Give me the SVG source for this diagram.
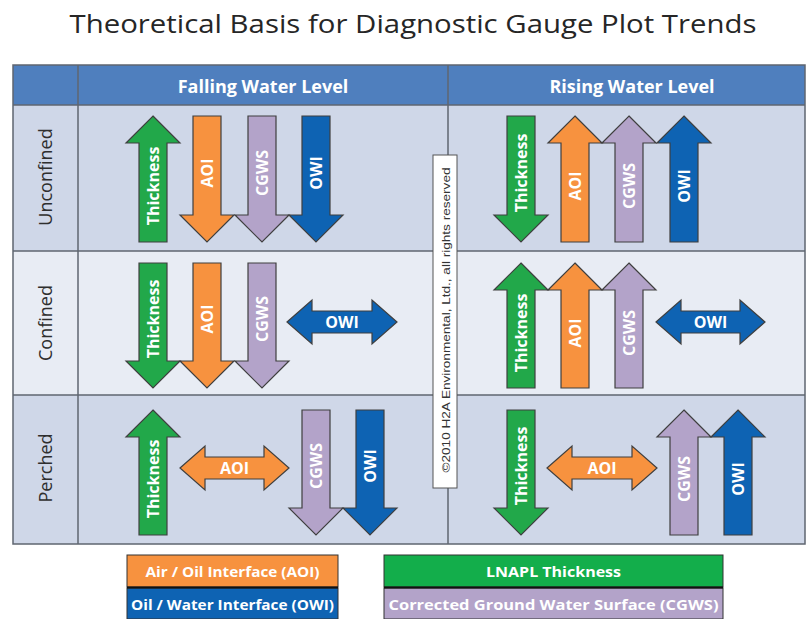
<svg xmlns="http://www.w3.org/2000/svg" width="806" height="619" viewBox="0 0 806 619">
<style>
.g{fill:#22a84a}.o{fill:#f7923f}.p{fill:#b3a3c9}.b{fill:#0e63b3}
.arr{stroke:#3f3f3f;stroke-width:1.2;stroke-linejoin:miter}
.lbl{font-family:"Open Sans","Liberation Sans",sans-serif;font-weight:700;font-size:16px;fill:#fff;text-anchor:middle;dominant-baseline:central}
.hdr{font-family:"Open Sans","Liberation Sans",sans-serif;font-weight:700;font-size:18px;fill:#fff;text-anchor:middle;dominant-baseline:central}
.row{font-family:"Open Sans","Liberation Sans",sans-serif;font-size:18px;fill:#2e2e2e;text-anchor:middle;dominant-baseline:central}
.leg{font-family:"Open Sans","Liberation Sans",sans-serif;font-weight:700;font-size:15px;fill:#fff;text-anchor:middle;dominant-baseline:central}
.grid{stroke:#5f6670;stroke-width:1.5;fill:none}
</style>
<rect width="806" height="619" fill="#fff"/>
<g id="title">
<text x="413" y="33" font-family="'Open Sans','Liberation Sans',sans-serif" font-size="26" fill="#262626" text-anchor="middle" textLength="687" lengthAdjust="spacingAndGlyphs">Theoretical Basis for Diagnostic Gauge Plot Trends</text>
</g>
<g id="table">
<rect x="13" y="65" width="792" height="40" fill="#4f7fbe"/>
<rect x="13" y="105" width="792" height="146" fill="#cfd7e8"/>
<rect x="13" y="251" width="792" height="144" fill="#e8ecf4"/>
<rect x="13" y="395" width="792" height="149" fill="#cfd7e8"/>
<rect class="grid" x="13" y="65" width="792" height="479" stroke-width="2"/>
<line class="grid" x1="13" y1="105" x2="805" y2="105"/>
<line class="grid" x1="13" y1="251" x2="805" y2="251"/>
<line class="grid" x1="13" y1="395" x2="805" y2="395"/>
<line class="grid" x1="78" y1="65" x2="78" y2="544"/>
<line class="grid" x1="448" y1="65" x2="448" y2="544"/>
<text class="hdr" x="263" y="86">Falling Water Level</text>
<text class="hdr" x="632" y="86">Rising Water Level</text>
<text class="row" transform="translate(45,177) rotate(-90)">Unconfined</text>
<text class="row" transform="translate(45,323) rotate(-90)">Confined</text>
<text class="row" transform="translate(45,468) rotate(-90)">Perched</text>
</g>
<g id="unconfined-falling">
<polygon class="g arr" points="153,116 180,143 167,143 167,242 139,242 139,143 126,143"/>
<text class="lbl" transform="translate(153,186) rotate(-90)">Thickness</text>
<polygon class="o arr" points="193,116 221,116 221,215 234,215 207,242 180,215 193,215"/>
<text class="lbl" transform="translate(207,173) rotate(-90)">AOI</text>
<polygon class="p arr" points="248,116 276,116 276,215 289,215 262,242 235,215 248,215"/>
<text class="lbl" transform="translate(262,173) rotate(-90)">CGWS</text>
<polygon class="b arr" points="302,116 330,116 330,215 343,215 316,242 289,215 302,215"/>
<text class="lbl" transform="translate(316,173) rotate(-90)">OWI</text>
</g>
<g id="unconfined-rising">
<polygon class="g arr" points="507,116 535,116 535,215 548,215 521,242 494,215 507,215"/>
<text class="lbl" transform="translate(521,173) rotate(-90)">Thickness</text>
<polygon class="o arr" points="575,116 602,143 589,143 589,242 561,242 561,143 548,143"/>
<text class="lbl" transform="translate(575,186) rotate(-90)">AOI</text>
<polygon class="p arr" points="629,116 656,143 643,143 643,242 615,242 615,143 602,143"/>
<text class="lbl" transform="translate(629,186) rotate(-90)">CGWS</text>
<polygon class="b arr" points="684,116 711,143 698,143 698,242 670,242 670,143 657,143"/>
<text class="lbl" transform="translate(684,186) rotate(-90)">OWI</text>
</g>
<g id="confined-falling">
<polygon class="g arr" points="139,263 167,263 167,361 180,361 153,388 126,361 139,361"/>
<text class="lbl" transform="translate(153,319) rotate(-90)">Thickness</text>
<polygon class="o arr" points="193,263 221,263 221,361 234,361 207,388 180,361 193,361"/>
<text class="lbl" transform="translate(207,319) rotate(-90)">AOI</text>
<polygon class="p arr" points="248,263 276,263 276,361 289,361 262,388 235,361 248,361"/>
<text class="lbl" transform="translate(262,319) rotate(-90)">CGWS</text>
<polygon class="b arr" points="287,322 312,300 312,311 372,311 372,300 397,322 372,344 372,333 312,333 312,344"/>
<text class="lbl" x="342" y="322">OWI</text>
</g>
<g id="confined-rising">
<polygon class="g arr" points="521,263 548,290 535,290 535,388 507,388 507,290 494,290"/>
<text class="lbl" transform="translate(521,333) rotate(-90)">Thickness</text>
<polygon class="o arr" points="575,263 602,290 589,290 589,388 561,388 561,290 548,290"/>
<text class="lbl" transform="translate(575,333) rotate(-90)">AOI</text>
<polygon class="p arr" points="629,263 656,290 643,290 643,388 615,388 615,290 602,290"/>
<text class="lbl" transform="translate(629,333) rotate(-90)">CGWS</text>
<polygon class="b arr" points="656,322 681,300 681,311 740,311 740,300 765,322 740,344 740,333 681,333 681,344"/>
<text class="lbl" x="710.5" y="322">OWI</text>
</g>
<g id="perched-falling">
<polygon class="g arr" points="153,410 180,437 167,437 167,535 139,535 139,437 126,437"/>
<text class="lbl" transform="translate(153,479) rotate(-90)">Thickness</text>
<polygon class="o arr" points="180,468 205,446 205,457 264,457 264,446 289,468 264,490 264,479 205,479 205,490"/>
<text class="lbl" x="234.5" y="468">AOI</text>
<polygon class="p arr" points="302,410 330,410 330,508 343,508 316,535 289,508 302,508"/>
<text class="lbl" transform="translate(316,466) rotate(-90)">CGWS</text>
<polygon class="b arr" points="356,410 384,410 384,508 397,508 370,535 343,508 356,508"/>
<text class="lbl" transform="translate(370,466) rotate(-90)">OWI</text>
</g>
<g id="perched-rising">
<polygon class="g arr" points="507,410 535,410 535,508 548,508 521,535 494,508 507,508"/>
<text class="lbl" transform="translate(521,466) rotate(-90)">Thickness</text>
<polygon class="o arr" points="547,468 572,446 572,457 632,457 632,446 657,468 632,490 632,479 572,479 572,490"/>
<text class="lbl" x="602" y="468">AOI</text>
<polygon class="p arr" points="684,410 711,437 698,437 698,535 670,535 670,437 657,437"/>
<text class="lbl" transform="translate(684,479) rotate(-90)">CGWS</text>
<polygon class="b arr" points="738,410 765,437 752,437 752,535 724,535 724,437 711,437"/>
<text class="lbl" transform="translate(738,479) rotate(-90)">OWI</text>
</g>
<g id="copyright">
<rect x="433" y="155" width="24" height="333" fill="#fff" stroke="#555" stroke-width="1"/>
<text transform="translate(446,320) rotate(-90)" font-family="'Liberation Sans',Arial,sans-serif" font-size="10.5" fill="#333" text-anchor="middle" dominant-baseline="central" textLength="305" lengthAdjust="spacingAndGlyphs">©2010 H2A Environmental, Ltd., all rights reserved</text>
</g>
<g id="legend">
<rect x="127" y="555" width="211" height="32" fill="#f7923f" stroke="#333" stroke-width="1"/>
<rect x="127" y="588" width="211" height="31" fill="#0e63b3" stroke="#333" stroke-width="1"/>
<line x1="127" y1="587.5" x2="338" y2="587.5" stroke="#111" stroke-width="2"/>
<text class="leg" x="232.5" y="571" textLength="174" lengthAdjust="spacingAndGlyphs">Air / Oil Interface (AOI)</text>
<text class="leg" x="232.5" y="604" textLength="203" lengthAdjust="spacingAndGlyphs">Oil / Water Interface (OWI)</text>
<rect x="384" y="555" width="339" height="32" fill="#13ae4b" stroke="#333" stroke-width="1"/>
<rect x="384" y="588" width="339" height="31" fill="#b3a3c9" stroke="#333" stroke-width="1"/>
<line x1="384" y1="587.5" x2="723" y2="587.5" stroke="#111" stroke-width="2"/>
<text class="leg" x="553.5" y="571" textLength="135" lengthAdjust="spacingAndGlyphs">LNAPL Thickness</text>
<text class="leg" x="553.5" y="604" textLength="330" lengthAdjust="spacingAndGlyphs">Corrected Ground Water Surface (CGWS)</text>
</g>
</svg>
